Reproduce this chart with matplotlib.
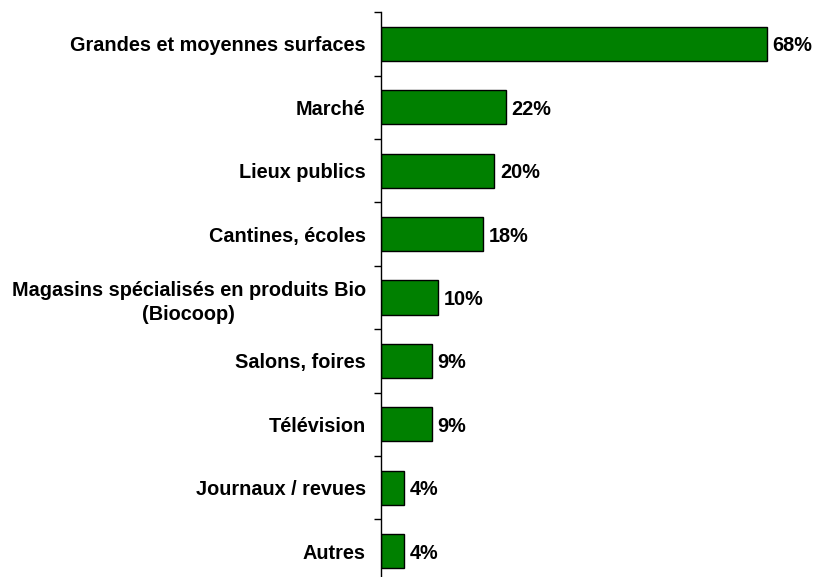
import numpy as np
import matplotlib.pyplot as plt

plt.rcParams['font.family'] = ['Liberation Sans', 'DejaVu Sans']
plt.rcParams['font.weight'] = 'bold'

categories = ['Grandes et moyennes surfaces', 'Marché', 'Lieux publics',
              'Cantines, écoles',
              'Magasins spécialisés en produits Bio\n(Biocoop)',
              'Salons, foires', 'Télévision', 'Journaux / revues', 'Autres']
values = [68, 22, 20, 18, 10, 9, 9, 4, 4]

fig = plt.figure(figsize=(8.15, 5.77), dpi=100)
ax = fig.add_axes([381/815, -0.0099, 431/815, 0.9886])

y = np.arange(len(categories))
ax.barh(y, values, height=0.54, color='#008000', edgecolor='black', linewidth=1)

for yi, v in zip(y, values):
    ax.text(v + 1.0, yi, f'{v}%', va='center_baseline', ha='left',
            fontsize=14.3, fontweight='bold')

ax.set_xlim(0, 76)
ax.set_ylim(len(categories) - 0.5, -0.5)
ax.set_yticks(y)
ax.set_yticklabels(categories, fontsize=14.3, fontweight='bold',
                   multialignment='center', linespacing=1.35)
ax.tick_params(axis='y', which='major', length=0, pad=11)
ax.set_yticks(np.arange(len(categories) + 1) - 0.5, minor=True)
ax.tick_params(axis='y', which='minor', length=5, width=1)
ax.get_xaxis().set_visible(False)
for s in ['top', 'right', 'bottom']:
    ax.spines[s].set_visible(False)
ax.spines['left'].set_linewidth(1)

fig.savefig('out.png', dpi=100)
